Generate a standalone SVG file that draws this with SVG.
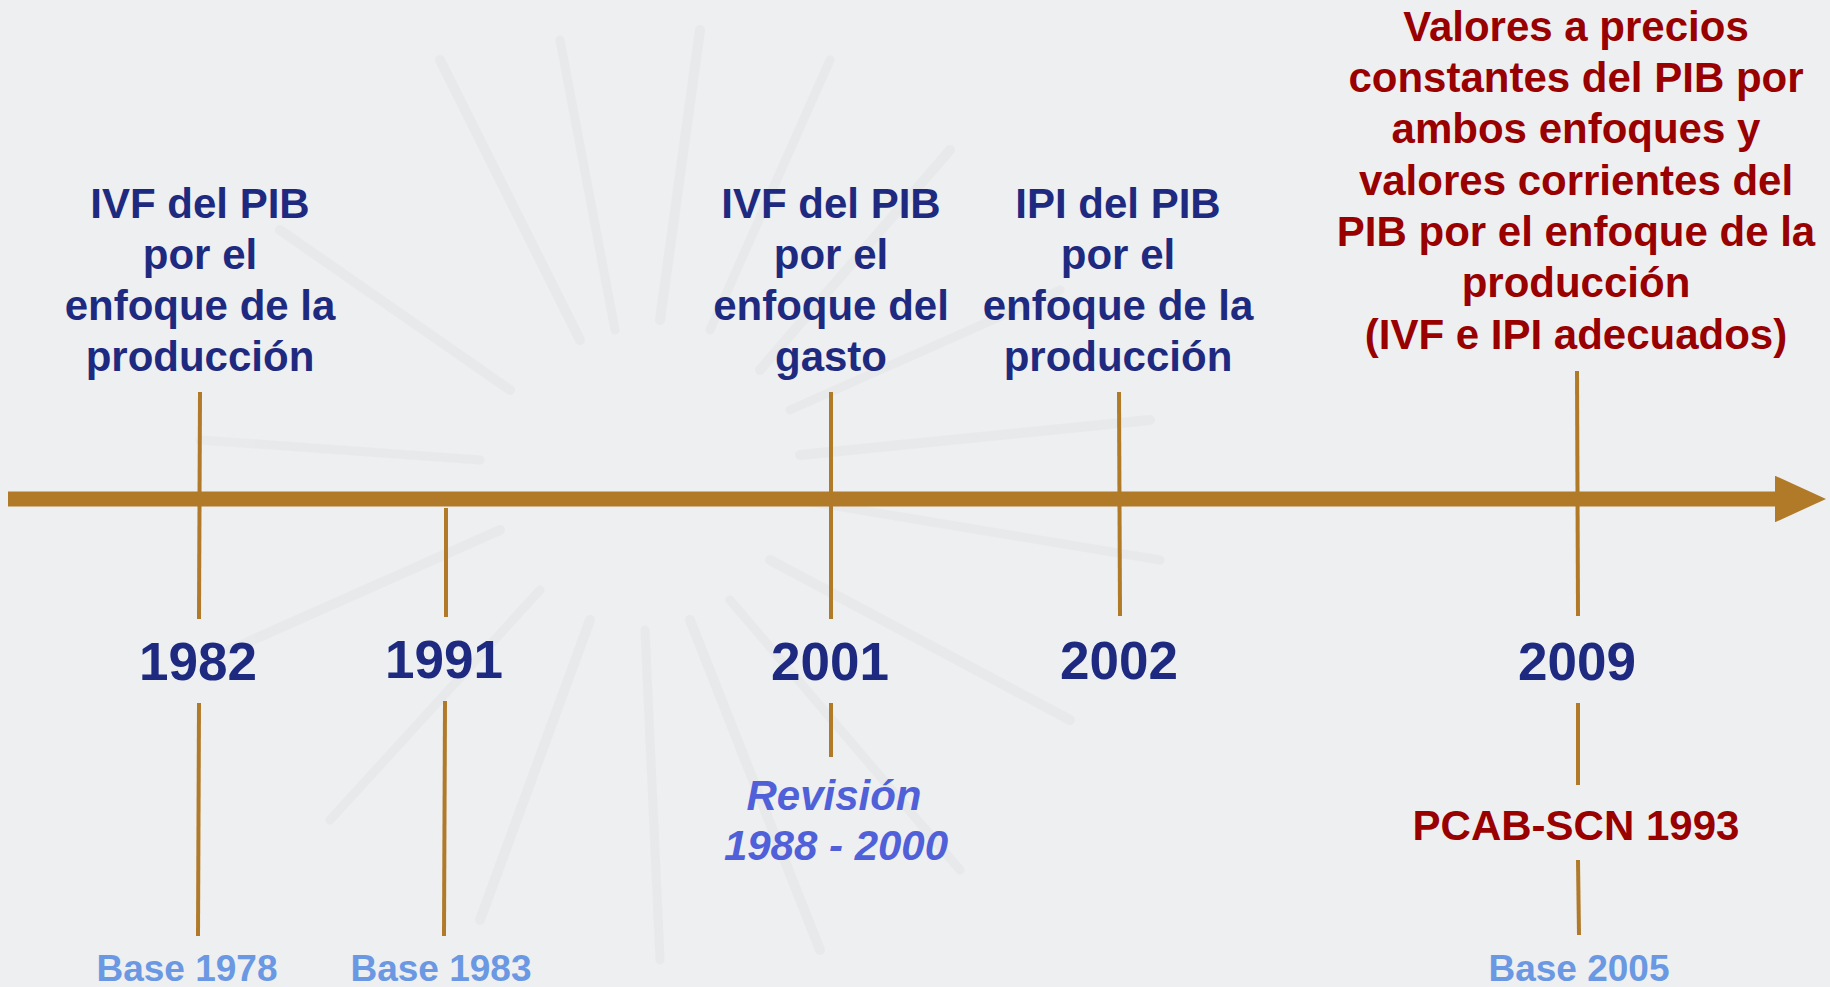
<svg xmlns="http://www.w3.org/2000/svg" width="1830" height="987" viewBox="0 0 1830 987">
  <defs>
    <style>
      text { font-family: "Liberation Sans", Arial, Helvetica, sans-serif; font-weight: bold; text-anchor: middle; }
      .navy { fill: #1e2a80; font-size: 42px; }
      .year { fill: #1e2a80; font-size: 53px; }
      .red { fill: #990000; font-size: 42px; }
      .base { fill: #6a98e2; font-size: 37px; }
      .rev { fill: #5060d8; font-size: 42px; font-style: italic; }
      .tick { stroke: #b07a28; stroke-width: 4; fill: none; }
      .ray { stroke: #e4e5e8; stroke-linecap: round; fill: none; }
    </style>
    <marker id="arrowhead" markerWidth="3.4" markerHeight="3.1" refX="0" refY="1.55" orient="auto" markerUnits="strokeWidth">
      <path d="M0,0 L3.4,1.55 L0,3.1 Z" fill="#b07a28"/>
    </marker>
  </defs>

  <rect x="0" y="0" width="1830" height="987" fill="#eeeff0"/>

  <g id="background-rays" opacity="0.5">
    <path class="ray" stroke-width="10" d="M580 340 L440 60"/>
    <path class="ray" stroke-width="9" d="M615 330 L560 40"/>
    <path class="ray" stroke-width="10" d="M660 320 L700 30"/>
    <path class="ray" stroke-width="9" d="M710 330 L830 60"/>
    <path class="ray" stroke-width="10" d="M760 370 L950 150"/>
    <path class="ray" stroke-width="9" d="M790 410 L1060 290"/>
    <path class="ray" stroke-width="10" d="M800 455 L1150 420"/>
    <path class="ray" stroke-width="9" d="M800 500 L1160 560"/>
    <path class="ray" stroke-width="10" d="M770 560 L1070 720"/>
    <path class="ray" stroke-width="9" d="M730 600 L960 870"/>
    <path class="ray" stroke-width="10" d="M690 620 L820 950"/>
    <path class="ray" stroke-width="9" d="M645 630 L660 960"/>
    <path class="ray" stroke-width="10" d="M590 620 L480 920"/>
    <path class="ray" stroke-width="9" d="M540 590 L330 820"/>
    <path class="ray" stroke-width="10" d="M500 530 L230 650"/>
    <path class="ray" stroke-width="9" d="M480 460 L200 440"/>
    <path class="ray" stroke-width="10" d="M510 390 L280 230"/>
  </g>

  <g id="connectors">
    <line id="axis" x1="8" y1="499" x2="1775" y2="499" stroke="#b07a28" stroke-width="15" marker-end="url(#arrowhead)"/>
    <line class="tick" x1="200" y1="392" x2="199" y2="619"/>
    <line class="tick" x1="199" y1="703" x2="198" y2="936"/>
    <line class="tick" x1="446" y1="508" x2="446" y2="617"/>
    <line class="tick" x1="445" y1="701" x2="444" y2="936"/>
    <line class="tick" x1="831" y1="392" x2="831" y2="619"/>
    <line class="tick" x1="831" y1="703" x2="831" y2="757"/>
    <line class="tick" x1="1119" y1="392" x2="1120" y2="616"/>
    <line class="tick" x1="1577" y1="371" x2="1578" y2="616"/>
    <line class="tick" x1="1578" y1="703" x2="1578" y2="785"/>
    <line class="tick" x1="1578" y1="860" x2="1579" y2="935"/>
  </g>

  <g id="node-1982">
    <text class="navy" x="200" y="218">IVF del PIB</text>
    <text class="navy" x="200" y="269">por el</text>
    <text class="navy" x="200" y="320">enfoque de la</text>
    <text class="navy" x="200" y="371">producción</text>
    <text class="year" x="198" y="680">1982</text>
    <text class="base" x="187" y="981">Base 1978</text>
  </g>

  <g id="node-1991">
    <text class="year" x="444" y="678">1991</text>
    <text class="base" x="441" y="981">Base 1983</text>
  </g>

  <g id="node-2001">
    <text class="navy" x="831" y="218">IVF del PIB</text>
    <text class="navy" x="831" y="269">por el</text>
    <text class="navy" x="831" y="320">enfoque del</text>
    <text class="navy" x="831" y="371">gasto</text>
    <text class="year" x="830" y="680">2001</text>
    <text class="rev" x="834" y="810">Revisión</text>
    <text class="rev" x="836" y="860">1988 - 2000</text>
  </g>

  <g id="node-2002">
    <text class="navy" x="1118" y="218">IPI del PIB</text>
    <text class="navy" x="1118" y="269">por el</text>
    <text class="navy" x="1118" y="320">enfoque de la</text>
    <text class="navy" x="1118" y="371">producción</text>
    <text class="year" x="1119" y="679">2002</text>
  </g>

  <g id="node-2009">
    <text class="red" x="1576" y="41">Valores a precios</text>
    <text class="red" x="1576" y="92">constantes del PIB por</text>
    <text class="red" x="1576" y="143">ambos enfoques y</text>
    <text class="red" x="1576" y="195">valores corrientes del</text>
    <text class="red" x="1576" y="246">PIB por el enfoque de la</text>
    <text class="red" x="1576" y="297">producción</text>
    <text class="red" x="1576" y="349">(IVF e IPI adecuados)</text>
    <text class="year" x="1577" y="680">2009</text>
    <text class="red" x="1576" y="840">PCAB-SCN 1993</text>
    <text class="base" x="1579" y="981">Base 2005</text>
  </g>
</svg>
